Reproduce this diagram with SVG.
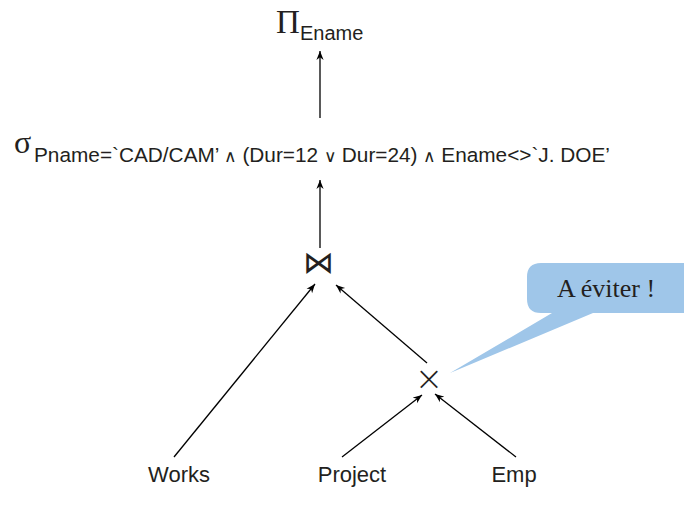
<svg xmlns="http://www.w3.org/2000/svg" width="684" height="505" viewBox="0 0 684 505">
<defs>
<marker id="ah" viewBox="0 0 10 10" refX="10" refY="5" markerWidth="9" markerHeight="9" markerUnits="userSpaceOnUse" orient="auto">
<path d="M0,1 L10,5 L0,9 L3,5 Z" fill="#000"/>
</marker>
<style>
.sans{font-family:"Liberation Sans",Arial,sans-serif;fill:#231f20}
.serif{font-family:"Liberation Serif","Times New Roman",serif;fill:#231f20}
.op{font-family:"DejaVu Sans",sans-serif;font-weight:200;fill:#231f20;text-anchor:middle}
.edge{stroke:#000;stroke-width:1.3;fill:none;marker-end:url(#ah)}
.leaf{font-size:22px;text-anchor:middle}
</style>
</defs>
<rect width="684" height="505" fill="#fff"/>
<g id="connectors">
<line class="edge" x1="320" y1="118" x2="320" y2="51"/>
<line class="edge" x1="320" y1="248" x2="320" y2="180"/>
<line class="edge" x1="174" y1="457" x2="315" y2="284"/>
<line class="edge" x1="427" y1="363" x2="336" y2="285"/>
<line class="edge" x1="342" y1="457" x2="422" y2="395"/>
<line class="edge" x1="516" y1="457" x2="435" y2="394"/>
</g>
<g id="project">
<text class="serif" x="276" y="33" font-size="33">Π</text>
<text class="sans" x="300" y="40" font-size="20">Ename</text>
</g>
<g id="select">
<text class="serif" x="14" y="153" font-size="32">σ</text>
<text class="sans" x="34" y="162" font-size="20.5" textLength="576" lengthAdjust="spacingAndGlyphs">Pname=`CAD/CAM’ <tspan font-size="17">∧</tspan> (Dur=12 <tspan font-size="17">∨</tspan> Dur=24) <tspan font-size="17">∧</tspan> Ename&lt;&gt;`J. DOE’</text>
</g>
<g id="join">
<text class="op" x="318.5" y="273" font-size="31">⋈</text>
</g>
<g id="product">
<text class="op" x="429" y="390" font-size="34">×</text>
</g>
<g id="works"><text class="sans leaf" x="179" y="482">Works</text></g>
<g id="projectrel"><text class="sans leaf" x="352" y="482">Project</text></g>
<g id="emp"><text class="sans leaf" x="514" y="482">Emp</text></g>
<g id="callout">
<path d="M541,263 H700 V313 H593 L450,373 L552,313 H541 Q527,313 527,299 V277 Q527,263 541,263 Z" fill="#9fc6e9"/>
<text class="serif" x="606" y="297" font-size="26" text-anchor="middle">A éviter !</text>
</g>
</svg>
